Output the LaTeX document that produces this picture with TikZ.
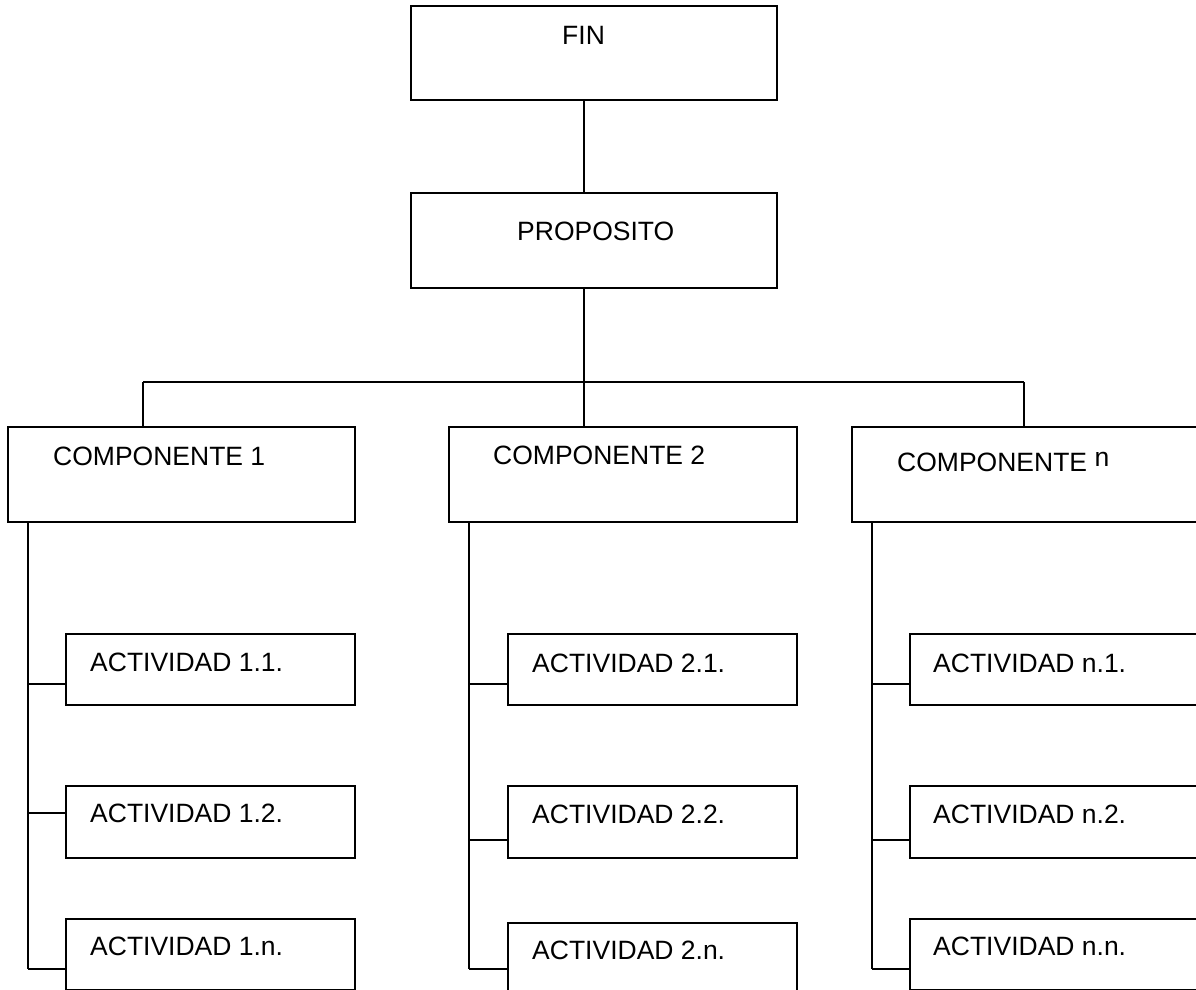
\documentclass[tikz,border=0pt]{standalone}
\usepackage{fontspec}
\setmainfont{Liberation Sans}
\begin{document}
\begin{tikzpicture}[x=1pt,y=-1pt,
  box/.style={draw, rectangle, inner sep=0pt, outer sep=0pt, line width=1.4pt},
  lbl/.style={anchor=base west, inner sep=0pt, font=\fontsize{26.5}{30}\selectfont},
  conn/.style={line width=1.4pt}]
\useasboundingbox (0,0) rectangle (1196,989);
\clip (0,0) rectangle (1196,989);
\fill[white] (0,0) rectangle (1196,989);
% boxes
\node[box, minimum width=366pt, minimum height=94pt] (fin) at (594,53) {};
\node[box, minimum width=366pt, minimum height=95pt] (prop) at (594,240.5) {};
\node[box, minimum width=347pt, minimum height=95pt] (c1) at (181.5,474.5) {};
\node[box, minimum width=348pt, minimum height=95pt] (c2) at (623,474.5) {};
\node[box, minimum width=358pt, minimum height=95pt] (cn) at (1031,474.5) {};
\node[box, minimum width=289pt, minimum height=71pt] (a11) at (210.5,669.5) {};
\node[box, minimum width=289pt, minimum height=72pt] (a12) at (210.5,822) {};
\node[box, minimum width=289pt, minimum height=71pt] (a1n) at (210.5,954.5) {};
\node[box, minimum width=289pt, minimum height=71pt] (a21) at (652.5,669.5) {};
\node[box, minimum width=289pt, minimum height=72pt] (a22) at (652.5,822) {};
\node[box, minimum width=289pt, minimum height=72pt] (a2n) at (652.5,959) {};
\node[box, minimum width=300pt, minimum height=71pt] (an1) at (1060,669.5) {};
\node[box, minimum width=300pt, minimum height=72pt] (an2) at (1060,822) {};
\node[box, minimum width=300pt, minimum height=71pt] (ann) at (1060,954.5) {};
% labels
\node[lbl] (tfin) at (562,44) {FIN};
\node[lbl] (tprop) at (517,240) {PROPOSITO};
\node[lbl] (tc1) at (53,465) {COMPONENTE 1};
\node[lbl] (tc2) at (493,464) {COMPONENTE 2};
\node[lbl] (tcn) at (897,471) {COMPONENTE \raisebox{5pt}{n}};
\node[lbl] (ta11) at (90,671) {ACTIVIDAD 1.1.};
\node[lbl] (ta12) at (90,822) {ACTIVIDAD 1.2.};
\node[lbl] (ta1n) at (90,955) {ACTIVIDAD 1.n.};
\node[lbl] (ta21) at (532,672) {ACTIVIDAD 2.1.};
\node[lbl] (ta22) at (532,823) {ACTIVIDAD 2.2.};
\node[lbl] (ta2n) at (532,959) {ACTIVIDAD 2.n.};
\node[lbl] (tan1) at (933,672) {ACTIVIDAD n.1.};
\node[lbl] (tan2) at (933,823) {ACTIVIDAD n.2.};
\node[lbl] (tann) at (933,955) {ACTIVIDAD n.n.};
% connectors
\coordinate (bus) at (584,382);
\coordinate (bl) at (143,382);
\coordinate (br) at (1024,382);
\draw[conn] (fin.south -| bus) -- (prop.north -| bus);
\draw[conn] (prop.south -| bus) -- (bus);
\draw[conn] (bl) -- (br);
\draw[conn] (bl) -- (bl |- c1.north);
\draw[conn] (bus) -- (bus |- c2.north);
\draw[conn] (br) -- (br |- cn.north);
% column 1
\coordinate (j11) at (28,684);
\coordinate (j12) at (28,813);
\coordinate (j1n) at (28,969);
\draw[conn] (c1.south -| j1n) -- (j1n);
\draw[conn] (j11) -- (j11 -| a11.west);
\draw[conn] (j12) -- (j12 -| a12.west);
\draw[conn] (j1n) -- (j1n -| a1n.west);
% column 2
\coordinate (j21) at (469,684);
\coordinate (j22) at (469,840);
\coordinate (j2n) at (469,969);
\draw[conn] (c2.south -| j2n) -- (j2n);
\draw[conn] (j21) -- (j21 -| a21.west);
\draw[conn] (j22) -- (j22 -| a22.west);
\draw[conn] (j2n) -- (j2n -| a2n.west);
% column n
\coordinate (jn1) at (872,684);
\coordinate (jn2) at (872,840);
\coordinate (jnn) at (872,969);
\draw[conn] (cn.south -| jnn) -- (jnn);
\draw[conn] (jn1) -- (jn1 -| an1.west);
\draw[conn] (jn2) -- (jn2 -| an2.west);
\draw[conn] (jnn) -- (jnn -| ann.west);
\end{tikzpicture}
\end{document}
